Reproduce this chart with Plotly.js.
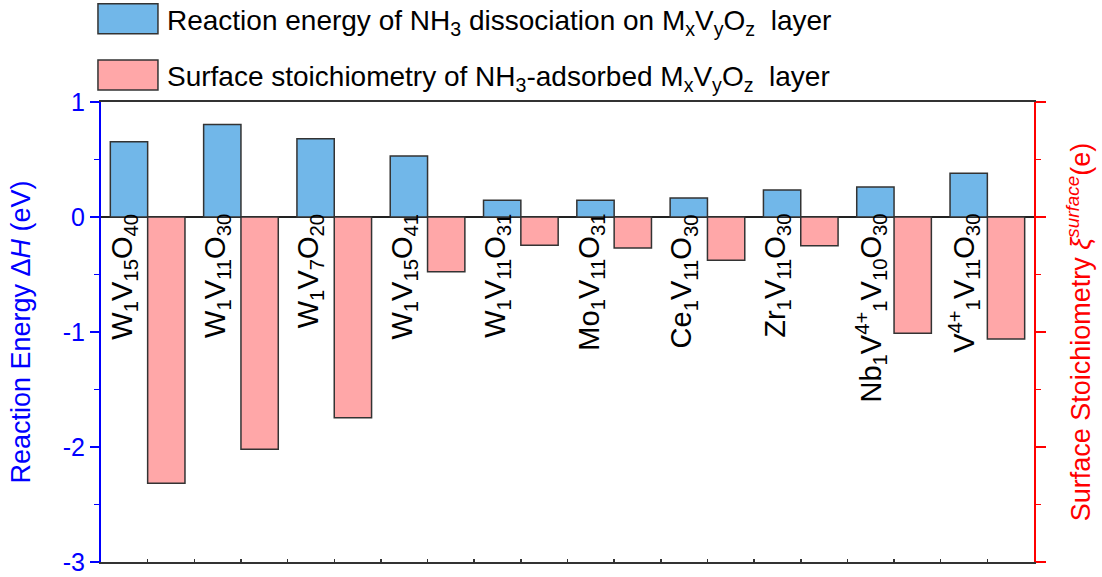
<!DOCTYPE html>
<html>
<head>
<meta charset="utf-8">
<script src="https://cdn.plot.ly/plotly-3.0.1.min.js"></script>
<style>
html,body{margin:0;padding:0;background:#fff;}
#chart{width:1102px;height:577px;}
</style>
</head>
<body>
<div id="chart"></div>
<script>
// ---- data ----
const categories = [
  "W<sub>1</sub>V<sub>15</sub>O<sub>40</sub>",
  "W<sub>1</sub>V<sub>11</sub>O<sub>30</sub>",
  "W<sub>1</sub>V<sub>7</sub>O<sub>20</sub>",
  "W<sub>1</sub>V<sub>15</sub>O<sub>41</sub>",
  "W<sub>1</sub>V<sub>11</sub>O<sub>31</sub>",
  "Mo<sub>1</sub>V<sub>11</sub>O<sub>31</sub>",
  "Ce<sub>1</sub>V<sub>11</sub>O<sub>30</sub>",
  "Zr<sub>1</sub>V<sub>11</sub>O<sub>30</sub>",
  "Nb<sub>1</sub>V<sup>4+</sup><sub>1</sub>V<sub>10</sub>O<sub>30</sub>",
  "V<sup>4+</sup><sub>1</sub>V<sub>11</sub>O<sub>30</sub>"
];
const reactionEnergy = [0.655, 0.805, 0.68, 0.53, 0.145, 0.145, 0.165, 0.235, 0.26, 0.38];
const surfaceStoich = [-2.315, -2.02, -1.745, -0.475, -0.245, -0.27, -0.375, -0.25, -1.01, -1.06];
const seriesNames = [
  "Reaction energy of NH<sub>3</sub> dissociation on M<sub>x</sub>V<sub>y</sub>O<sub>z</sub>  layer",
  "Surface stoichiometry of NH<sub>3</sub>-adsorbed M<sub>x</sub>V<sub>y</sub>O<sub>z</sub>  layer"
];
const yTickVals = [-3, -2, -1, 0, 1];
const yTickText = ["-3", "-2", "-1", "0", "1"];

// ---- chart ----
const FONT = "Arial, 'Liberation Sans', sans-serif";
const xIdx = categories.map((c, i) => i);

const traces = [
  {
    type: "bar", x: xIdx, y: reactionEnergy, name: seriesNames[0],
    yaxis: "y", width: 0.4, offset: -0.4, legendgroup: "a",
    marker: {color: "#71B7E9", line: {color: "#333333", width: 1.5}},
    hoverinfo: "y"
  },
  {
    type: "bar", x: xIdx, y: surfaceStoich, name: seriesNames[1],
    yaxis: "y2", width: 0.4, offset: 0, legendgroup: "b",
    marker: {color: "#FFA7A8", line: {color: "#333333", width: 1.5}},
    hoverinfo: "y"
  }
];

const annotations = categories.map((c, i) => ({
  x: i, y: 0, xref: "x", yref: "y", text: c, showarrow: false,
  textangle: -90, xanchor: "center", yanchor: "top",
  xshift: -24, yshift: 5,
  font: {family: FONT, size: 29, color: "#000"}
}));

const layout = {
  width: 1102, height: 577,
  margin: {l: 101, r: 68, t: 102, b: 15, autoexpand: false},
  paper_bgcolor: "#fff", plot_bgcolor: "#fff",
  font: {family: FONT, size: 26, color: "#000"},
  barmode: "overlay",
  showlegend: true,
  legend: {
    x: -0.0129, xanchor: "left", y: 1.2348, yanchor: "top",
    font: {family: FONT, size: 28, color: "#000"},
    bgcolor: "rgba(0,0,0,0)", itemwidth: 68, tracegroupgap: 17,
    traceorder: "grouped"
  },
  xaxis: {
    range: [-0.5, 9.5], tickmode: "linear", tick0: -0.5, dtick: 0.5,
    showticklabels: false, ticks: "inside", ticklen: 3, tickwidth: 1.5, tickcolor: "#333",
    showline: true, linecolor: "#333", linewidth: 2, mirror: true,
    showgrid: false, zeroline: false, fixedrange: true
  },
  yaxis: {
    range: [-3, 1], tickmode: "array", tickvals: yTickVals, ticktext: yTickText,
    ticks: "outside", ticklen: 9, tickwidth: 2, tickcolor: "#0000FF",
    minor: {dtick: 0.5, tick0: 0, ticks: "outside", ticklen: 5, tickwidth: 1.5, tickcolor: "#0000FF", showgrid: false},
    tickfont: {family: FONT, size: 25, color: "#0000FF"},
    showline: true, linecolor: "#0000FF", linewidth: 2,
    showgrid: false, zeroline: true, zerolinecolor: "#222", zerolinewidth: 1.5,
    title: {text: "Reaction Energy Δ<i>H</i> (eV)", font: {family: FONT, size: 27, color: "#0000FF"}, standoff: 24},
    fixedrange: true
  },
  yaxis2: {
    overlaying: "y", side: "right", anchor: "x",
    range: [-3, 1], tickmode: "array", tickvals: yTickVals, showticklabels: false,
    ticks: "outside", ticklen: 10, tickwidth: 2, tickcolor: "#FF0000",
    minor: {dtick: 0.5, tick0: 0, ticks: "outside", ticklen: 5, tickwidth: 1.5, tickcolor: "#FF0000", showgrid: false},
    showline: true, linecolor: "#FF0000", linewidth: 2,
    showgrid: false, zeroline: false,
    title: {text: "Surface Stoichiometry <i>ξ</i><sup><i>surface</i></sup>(e)", font: {family: FONT, size: 27, color: "#FF0000"}, standoff: 26},
    fixedrange: true
  },
  annotations: annotations
};

function enlargeLegendSymbols() {
  document.querySelectorAll("#chart .legend .traces").forEach(tr => {
    tr.querySelectorAll(".legendpoints path").forEach(p => {
      p.setAttribute("d", "M30,15H-30V-15H30Z");
    });
  });
}

Plotly.newPlot("chart", traces, layout, {displayModeBar: false, staticPlot: true}).then(gd => {
  enlargeLegendSymbols();
  gd.on("plotly_afterplot", enlargeLegendSymbols);
});
</script>
</body>
</html>
